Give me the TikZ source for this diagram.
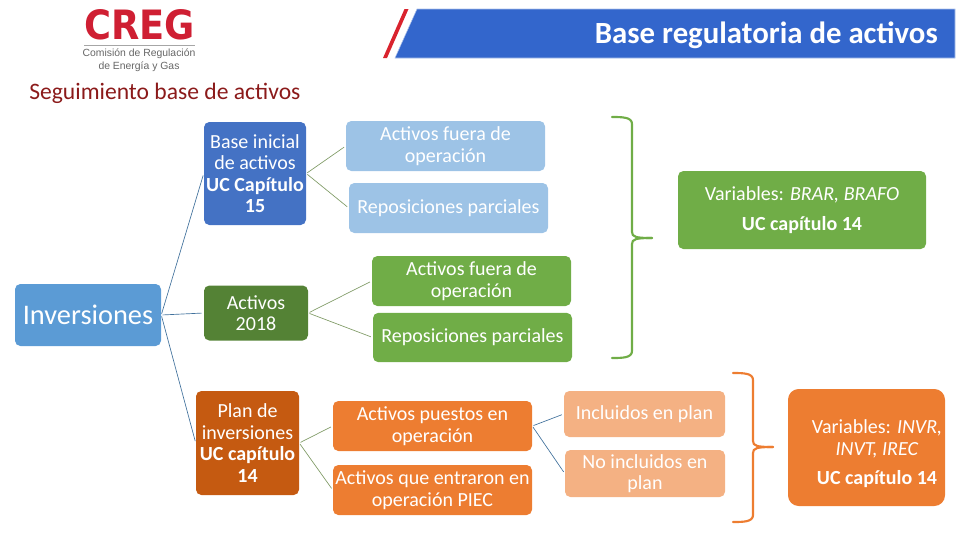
\documentclass[tikz,border=0pt]{standalone}
\usepackage{fontspec}
\setmainfont{Carlito}
\newfontfamily\logofont{Liberation Sans}
\newfontfamily\logobold{DejaVu Sans}
\definecolor{banner}{HTML}{3366CC}
\definecolor{slash}{HTML}{D9232E}
\definecolor{subt}{HTML}{8B1A1A}
\definecolor{cinv}{HTML}{5B9BD5}
\definecolor{cbase}{HTML}{4472C4}
\definecolor{cdkgreen}{HTML}{548235}
\definecolor{cdkorange}{HTML}{C55A11}
\definecolor{cgreen}{HTML}{70AD47}
\definecolor{corange}{HTML}{ED7D31}
\definecolor{clorange}{HTML}{F4B183}
\definecolor{clblue}{HTML}{9DC3E6}
\definecolor{lnblue}{HTML}{41719C}
\definecolor{lngreen}{HTML}{7F9A65}
\definecolor{logored}{HTML}{CF1F33}
\tikzset{
  bx/.style={rounded corners=4pt,inner sep=0pt,align=center,text=white,font=\fontsize{15}{16.1}\selectfont},
  big/.style={font=\fontsize{21.3}{24}\selectfont},
  lnb/.style={draw=lnblue,line width=0.5pt,shorten >=1.5pt,shorten <=1pt},
  lng/.style={draw=lngreen,line width=0.5pt,shorten >=1.5pt,shorten <=1pt},
  brace/.style={line width=1.6pt,line cap=round}
}
\begin{document}
\begin{tikzpicture}[x=0.75pt,y=-0.75pt]
\useasboundingbox (0,0) rectangle (960,540);
% banner
\fill[banner,draw=banner!40,line width=0.4pt] (417,9) -- (955,9) -- (955,58) -- (395,58) -- cycle;
\fill[slash] (404.5,9) -- (408.5,9) -- (387,58) -- (383,58) -- cycle;
\node[text=white,anchor=base east,inner sep=0pt,font=\bfseries\fontsize{23.1}{26}\selectfont] (title) at (938,43.5) {Base regulatoria de activos};
% logo
\node[text=logored,inner sep=0pt] (logo) at (139.5,24.5) {\resizebox{83pt}{22.5pt}{\logobold\bfseries CREG}};
\node[inner sep=0pt,text=black!60,align=center,font=\logofont\fontsize{7.8}{9.6}\selectfont] (logotxt) at (139,60) {Comisión de Regulación\\de Energía y Gas};
\draw[black!35,line width=0.5pt] (84,45) -- (195,45);
\node[text=subt,anchor=base west,inner sep=0pt,font=\fontsize{17.7}{20}\selectfont] (sub) at (29,99) {Seguimiento base de activos};
% boxes
\node[bx,big,fill=cinv,minimum width=109.5pt,minimum height=46.5pt] (inv) at (88,315) {Inversiones};
\node[bx,fill=cbase,minimum width=76.5pt,minimum height=77.25pt] (base) at (255,173.5) {Base inicial\\de activos\\\textbf{UC Capítulo}\\\textbf{15}};
\node[bx,fill=cdkgreen,minimum width=78pt,minimum height=41.25pt] (a2018) at (256,313) {Activos\\2018};
\node[bx,fill=cdkorange,minimum width=77.25pt,minimum height=78pt] (plan) at (247.5,443) {Plan de\\inversiones\\\textbf{UC capítulo}\\\textbf{14}};
\node[bx,fill=clblue,minimum width=149.25pt,minimum height=37.5pt] (fa) at (445.5,146) {Activos fuera de\\operación};
\node[bx,fill=clblue,minimum width=149.25pt,minimum height=37.5pt] (ra) at (448.5,208) {Reposiciones parciales};
\node[bx,fill=cgreen,minimum width=149.25pt,minimum height=37.5pt] (fb) at (471.5,281) {Activos fuera de\\operación};
\node[bx,fill=cgreen,minimum width=149.25pt,minimum height=37pt] (rb) at (472.5,337.5) {Reposiciones parciales};
\node[bx,fill=corange,minimum width=149.25pt,minimum height=37.5pt] (pu) at (432.5,426) {Activos puestos en\\operación};
\node[bx,fill=corange,minimum width=149.25pt,minimum height=37.5pt] (en) at (432.5,490) {Activos que entraron en\\operación PIEC};
\node[bx,fill=clorange,minimum width=120.75pt,minimum height=34.5pt] (inc) at (644.5,414) {Incluidos en plan};
\node[bx,fill=clorange,minimum width=120pt,minimum height=35.25pt] (noi) at (645,473.5) {No incluidos en\\plan};
\node[bx,fill=cgreen,minimum width=186pt,minimum height=58.5pt] (vg) at (802,210) {Variables: \textit{BRAR, BRAFO}\\[6pt]\textbf{UC capítulo 14}};
\node[bx,fill=corange,rounded corners=8pt,minimum width=117.75pt,minimum height=87.75pt] (vo) at (866.5,447.5) {};
\node[text=white,inner sep=0pt,align=center,font=\fontsize{15}{16.1}\selectfont] (vot) at (877,454) {Variables: \textit{INVR,}\\\textit{INVT, IREC}\\[6pt]\textbf{UC capítulo 14}};
% connectors
\draw[lnb] (inv.east) -- (base.west);
\draw[lnb] (inv.east) -- (a2018.west);
\draw[lnb] (inv.east) -- (plan.west);
\draw[lng] (base.east) -- (fa.west);
\draw[lng] (base.east) -- (ra.west);
\draw[lng] (a2018.east) -- (fb.west);
\draw[lng] (a2018.east) -- (rb.west);
\draw[lng] (plan.east) -- (pu.west);
\draw[lng] (plan.east) -- (en.west);
\draw[lnb] (pu.east) -- (inc.west);
\draw[lnb] (pu.east) -- (noi.west);
% braces
\draw[brace,cgreen] (612,117) .. controls (622,117) and (632,117) .. (632,124) -- (632,232) .. controls (632,237) and (636,238) .. (652,238);
\draw[brace,cgreen] (612,358) .. controls (622,358) and (632,358) .. (632,351) -- (632,244) .. controls (632,239) and (636,238) .. (652,238);
\draw[brace,corange] (733,373) .. controls (743,373) and (753,373) .. (753,380) -- (753,441) .. controls (753,446) and (757,447) .. (773,447);
\draw[brace,corange] (733,522) .. controls (743,522) and (753,522) .. (753,515) -- (753,453) .. controls (753,448) and (757,447) .. (773,447);
\end{tikzpicture}
\end{document}
